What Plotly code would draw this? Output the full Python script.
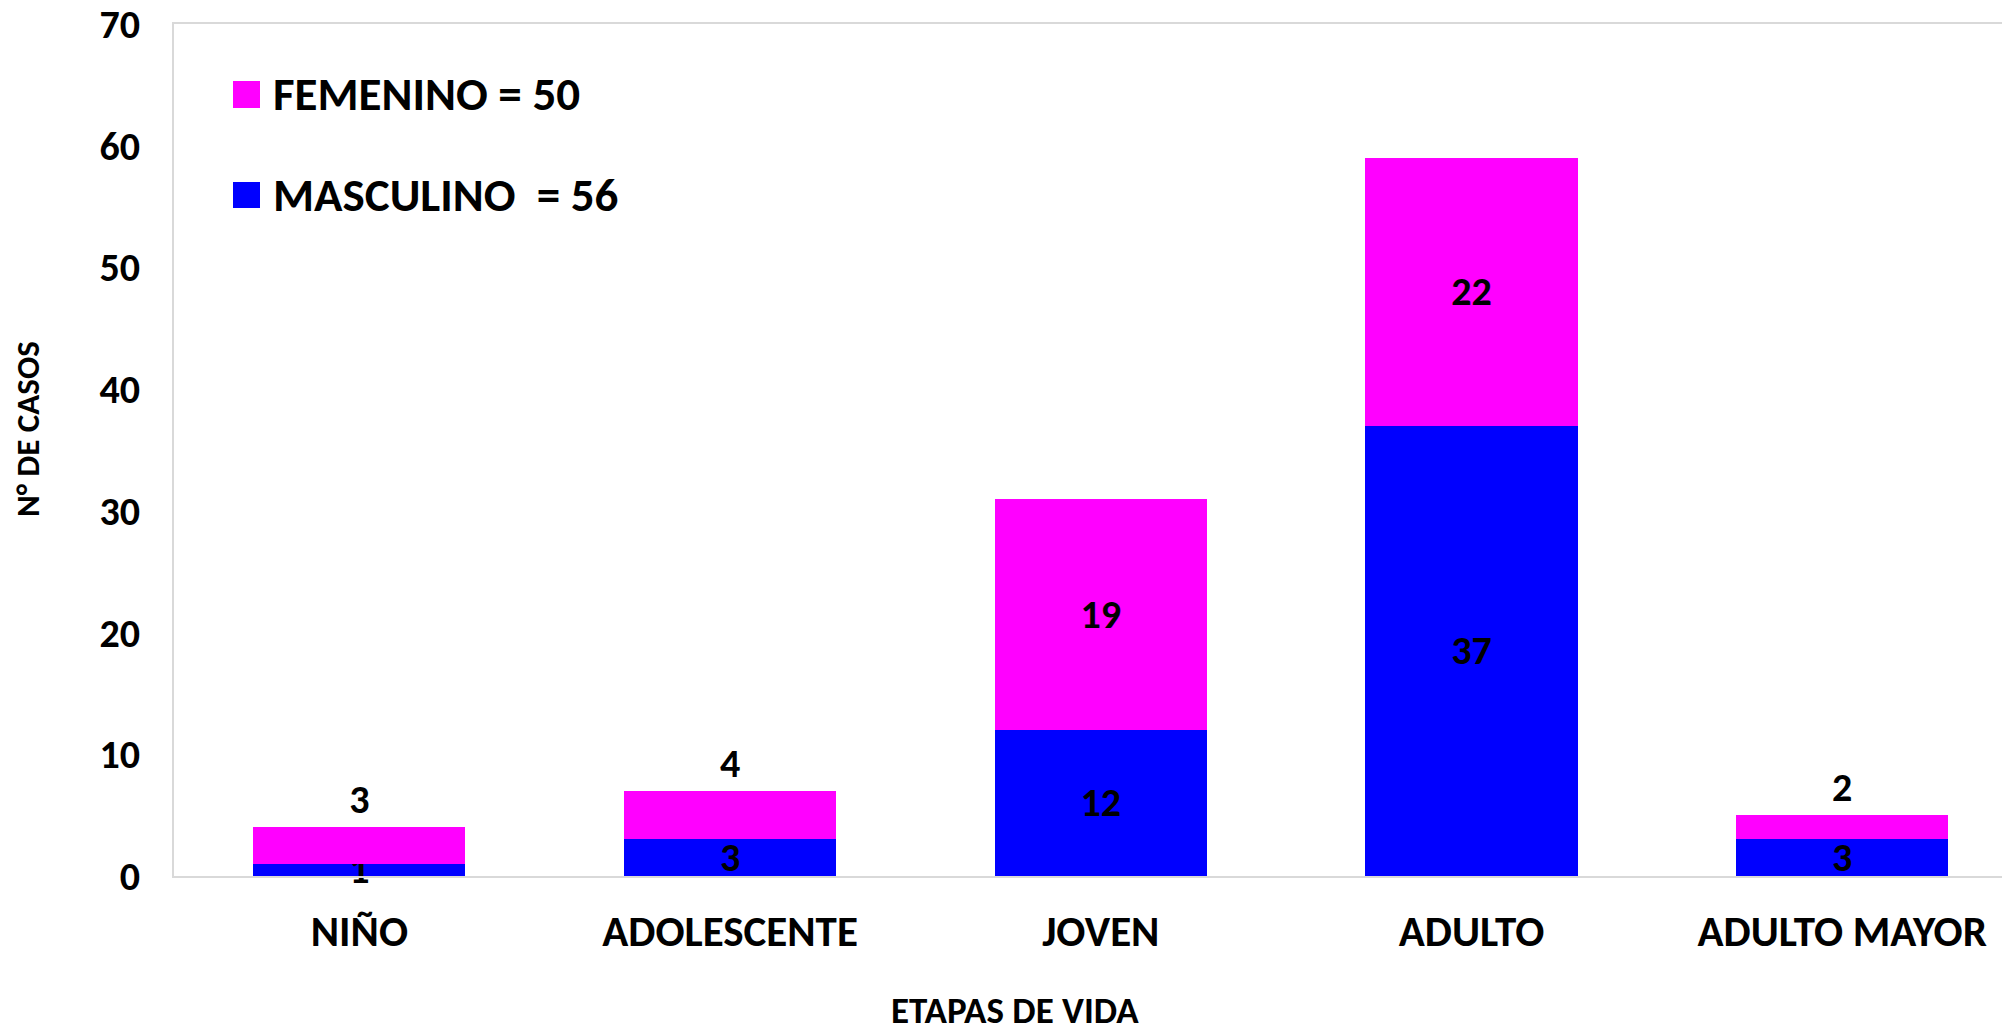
import plotly.graph_objects as go

# ---- data ----
categories = ["NIÑO", "ADOLESCENTE", "JOVEN", "ADULTO", "ADULTO MAYOR"]
masculino = [1, 3, 12, 37, 3]
femenino = [3, 4, 19, 22, 2]
fem_label_pos = ["outside", "outside", "inside", "inside", "outside"]
series_names = ["FEMENINO = 50", "MASCULINO  = 56"]
series_colors = ["#FF00FF", "#0000FF"]
y_ticks = [0, 10, 20, 30, 40, 50, 60, 70]
x_title = "ETAPAS DE VIDA"
y_title = "N° DE CASOS"

FONT = "Carlito, Calibri, Lato, 'Open Sans', sans-serif"
W, H = 2002, 1033
L, R, T, B = 174, 0, 24, 157

fig = go.Figure()
fig.add_trace(go.Bar(
    x=categories, y=masculino, name=series_names[1],
    marker=dict(color=series_colors[1], line=dict(width=0)),
    text=masculino, textposition="inside", insidetextanchor="middle",
    textangle=0, constraintext="none", cliponaxis=False,
    textfont=dict(family=FONT, size=40, color="black", weight=700),
    showlegend=False,
))
fig.add_trace(go.Bar(
    x=categories, y=femenino, name=series_names[0],
    marker=dict(color=series_colors[0], line=dict(width=0)),
    text=femenino, textposition=fem_label_pos, insidetextanchor="middle",
    textangle=0, constraintext="none", cliponaxis=False,
    textfont=dict(family=FONT, size=40, color="black", weight=700),
    showlegend=False,
))

# custom legend (large square swatches like the original)
plot_w = W - L - R
plot_h = H - T - B
def px_x(px):
    return (px - L) / plot_w
def px_y(py):
    return (H - B - py) / plot_h

legend_rows = [(81, 108), (182, 208)]
for (y0, y1), name, col in zip(legend_rows, series_names, series_colors):
    fig.add_shape(type="rect", xref="paper", yref="paper",
                  x0=px_x(233), x1=px_x(260), y0=px_y(y1), y1=px_y(y0),
                  fillcolor=col, line=dict(width=0))
    fig.add_annotation(xref="paper", yref="paper", x=px_x(271), y=px_y((y0 + y1) / 2),
                       xanchor="left", yanchor="middle", showarrow=False,
                       text=name.replace("  ", "&nbsp; "),
                       font=dict(family=FONT, size=47, color="black", weight=700))

# axis titles
fig.add_annotation(xref="paper", yref="paper", x=px_x(1015), y=px_y(1010),
                   xanchor="center", yanchor="middle", showarrow=False, text=x_title,
                   font=dict(family=FONT, size=37, color="black", weight=700))
fig.add_annotation(xref="paper", yref="paper", x=px_x(28), y=px_y(429),
                   xanchor="center", yanchor="middle", showarrow=False, text=y_title,
                   textangle=-90,
                   font=dict(family=FONT, size=33, color="black", weight=700))

fig.update_layout(
    width=W, height=H,
    margin=dict(l=L, r=R, t=T, b=B, pad=0),
    barmode="stack", bargap=0.428,
    plot_bgcolor="white", paper_bgcolor="white",
    uniformtext=dict(minsize=40, mode="show"),
    showlegend=False,
)
fig.update_xaxes(
    range=[-0.5, 4.431], showgrid=False, zeroline=False,
    showline=True, linecolor="#d9d9d9", linewidth=2, mirror=True,
    ticks="", ticklabelstandoff=16,
    tickfont=dict(family=FONT, size=43, color="black", weight=700),
)
fig.update_yaxes(
    range=[0, 70], tickvals=y_ticks, showgrid=False, zeroline=False,
    showline=True, linecolor="#d9d9d9", linewidth=2, mirror=False,
    ticks="", ticklabelstandoff=24,
    tickfont=dict(family=FONT, size=40, color="black", weight=700),
)

fig.write_html(
    "out.html",
    config={"displayModeBar": False},
    post_script="document.body.style.margin='0';document.body.style.overflow='hidden';",
)
